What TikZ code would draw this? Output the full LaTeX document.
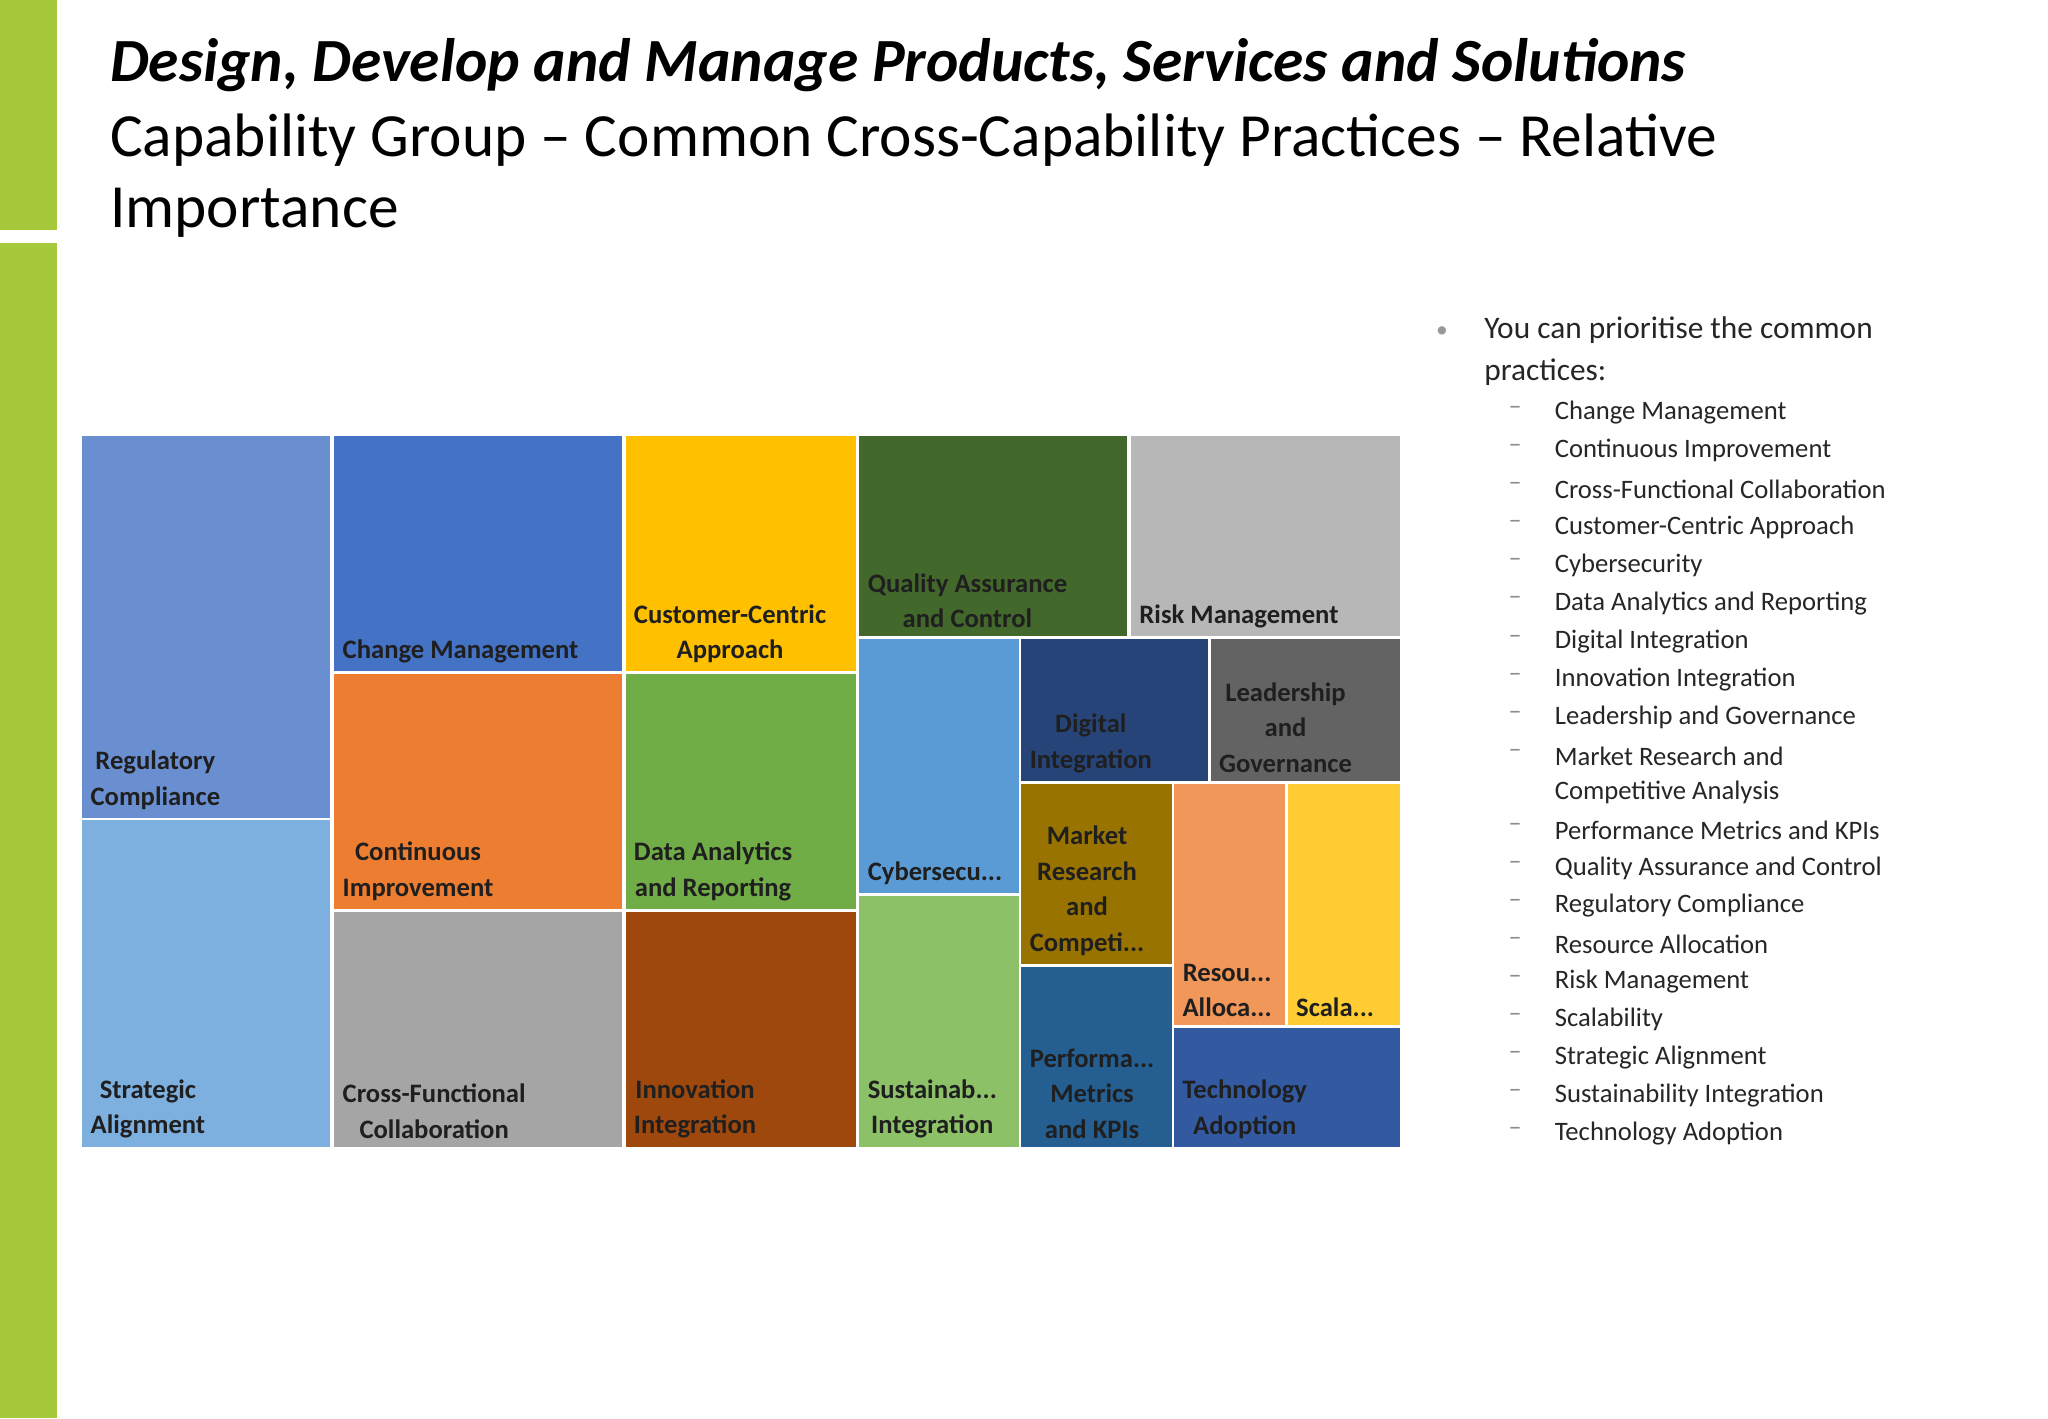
\documentclass[tikz,border=0pt]{standalone}
\usepackage{fontspec}
\setmainfont{Carlito}
\begin{document}
\begin{tikzpicture}[x=0.5pt,y=-0.5pt,
  cell/.style={draw=white,line width=1pt},
  lab/.style={anchor=south west,align=center,font=\bfseries\fontsize{10.2}{13.6}\selectfont,text=black!88,inner sep=0pt},
  item/.style={anchor=west,font=\fontsize{10.2}{14}\selectfont,text=black!85,inner sep=0pt}]
\useasboundingbox (0,0) rectangle (1568,1086);
\fill[white] (0,0) rectangle (1568,1086);
\fill[green!55!yellow!80!black] (0,0) rectangle (44,176);
\fill[green!55!yellow!80!black] (0,186) rectangle (44,1086);
\definecolor{bar}{HTML}{A5C93A}
\fill[bar] (0,0) rectangle (44,176);
\fill[bar] (0,186) rectangle (44,1086);
\node[anchor=west,inner sep=0pt,font=\bfseries\itshape\fontsize{23.5}{28}\selectfont] (t1) at (84,50) {Design, Develop and Manage Products, Services and Solutions};
\node[anchor=west,inner sep=0pt,font=\fontsize{23.5}{28}\selectfont] (t2) at (84,107) {Capability Group -- Common Cross-Capability Practices -- Relative};
\node[anchor=west,inner sep=0pt,font=\fontsize{23.5}{28}\selectfont] (t3) at (84,163) {Importance};
% treemap
\def\cellx#1#2#3#4#5#6#7{\fill[#6,cell] (#2,#3) rectangle (#4,#5); \node[lab] (#1) at (#2+7,#5-7) {#7};}
\definecolor{c1}{HTML}{6A8FD0}\definecolor{c2}{HTML}{7DB0DF}\definecolor{c3}{HTML}{4472C4}
\definecolor{c4}{HTML}{ED7D31}\definecolor{c5}{HTML}{A5A5A5}\definecolor{c6}{HTML}{FFC000}
\definecolor{c7}{HTML}{70AD47}\definecolor{c8}{HTML}{9E480E}\definecolor{c9}{HTML}{43682B}
\definecolor{c10}{HTML}{B7B7B7}\definecolor{c11}{HTML}{5B9BD5}\definecolor{c12}{HTML}{8CC168}
\definecolor{c13}{HTML}{264478}\definecolor{c14}{HTML}{636363}\definecolor{c15}{HTML}{997300}
\definecolor{c16}{HTML}{255E91}\definecolor{c17}{HTML}{F1975A}\definecolor{c18}{HTML}{FFCD33}
\definecolor{c19}{HTML}{335AA1}
\cellx{n1}{62}{333}{254}{627}{c1}{Regulatory\\Compliance}
\cellx{n2}{62}{627}{254}{879}{c2}{Strategic\\Alignment}
\cellx{n3}{255}{333}{477}{515}{c3}{Change Management}
\cellx{n4}{255}{515}{477}{697}{c4}{Continuous\\Improvement}
\cellx{n5}{255}{697}{477}{879}{c5}{Cross-Functional\\Collaboration}
\cellx{n6}{478}{333}{656}{515}{c6}{Customer-Centric\\Approach}
\cellx{n7}{478}{515}{656}{697}{c7}{Data Analytics\\and Reporting}
\cellx{n8}{478}{697}{656}{879}{c8}{Innovation\\Integration}
\cellx{n9}{657}{333}{864}{488}{c9}{Quality Assurance\\and Control}
\cellx{n10}{865}{333}{1073}{488}{c10}{Risk Management}
\cellx{n11}{657}{488}{781}{685}{c11}{Cybersecu...}
\cellx{n12}{657}{685}{781}{879}{c12}{Sustainab...\\Integration}
\cellx{n13}{781}{488}{926}{599}{c13}{Digital\\Integration}
\cellx{n14}{926}{488}{1073}{599}{c14}{Leadership\\and\\Governance}
\cellx{n15}{781}{599}{898}{739}{c15}{Market\\Research\\and\\Competi...}
\cellx{n16}{781}{739}{898}{879}{c16}{Performa...\\Metrics\\and KPIs}
\cellx{n17}{898}{599}{985}{786}{c17}{Resou...\\Alloca...}
\cellx{n18}{985}{599}{1073}{786}{c18}{Scala...}
\cellx{n19}{898}{786}{1073}{879}{c19}{Technology\\Adoption}
% list
\node[text=black!40,font=\fontsize{9}{9}\selectfont,inner sep=0pt] (b0) at (1104,254) {•};
\node[item,font=\fontsize{12}{16}\selectfont] (h1) at (1136,253) {You can prioritise the common};
\node[item,font=\fontsize{12}{16}\selectfont] (h2) at (1136,285) {practices:};
\foreach \t [count=\i] in {Change Management,Continuous Improvement,Cross-Functional Collaboration,Customer-Centric Approach,Cybersecurity,Data Analytics and Reporting,Digital Integration,Innovation Integration,Leadership and Governance,Market Research and,Competitive Analysis,Performance Metrics and KPIs,Quality Assurance and Control,Regulatory Compliance,Resource Allocation,Risk Management,Scalability,Strategic Alignment,Sustainability Integration,Technology Adoption}{
  \pgfmathsetmacro{\yy}{\i<11 ? 316+(\i-1)*29.2 : 606.5+(\i-11)*29.05}
  \node[item] (l\i) at (1190,\yy) {\t};
  \ifnum\i=11\else\node[text=black!45,inner sep=0pt,font=\fontsize{10}{10}\selectfont] (d\i) at (1160,\yy-2) {--};\fi
}
\end{tikzpicture}
\end{document}
